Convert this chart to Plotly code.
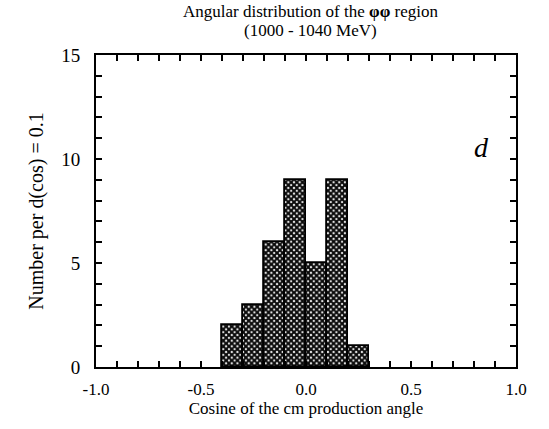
import plotly.graph_objects as go

# Histogram of cos(theta_cm) for the phi-phi region, 1000-1040 MeV
bin_edges = [-0.4, -0.3, -0.2, -0.1, 0.0, 0.1, 0.2, 0.3]
counts = [2, 3, 6, 9, 5, 9, 1]
bin_width = 0.1

x_ticks = [-1.0, -0.5, 0.0, 0.5, 1.0]
x_tick_labels = ["-1.0", "-0.5", "0.0", "0.5", "1.0"]
y_ticks = [0, 5, 10, 15]

title_lines = ["Angular distribution of the <b>φφ</b> region", "(1000 - 1040 MeV)"]

centers = [lo + bin_width / 2 for lo in bin_edges[:-1]]

serif = "Liberation Serif, Times New Roman, serif"

fig = go.Figure(
    go.Bar(
        x=centers,
        y=counts,
        width=[bin_width] * len(counts),
        marker=dict(
            color="black",
            line=dict(color="black", width=1.8),
            pattern=dict(shape="x", bgcolor="white", fgcolor="#0a0a0a",
                         size=4, solidity=0.78, fillmode="replace"),
        ),
        showlegend=False,
    )
)

axis_common = dict(
    showgrid=False, zeroline=False, showline=True, linecolor="black",
    linewidth=2, mirror="ticks", ticks="inside", ticklen=6, tickwidth=1.5,
    tickcolor="black",
)

fig.update_xaxes(
    range=[-1, 1], tickvals=x_ticks, ticktext=x_tick_labels,
    tickfont=dict(family=serif, size=17, color="black"),
    minor=dict(dtick=0.1, ticks="inside", ticklen=6, tickwidth=1.5, tickcolor="black"),
    title=dict(text="Cosine of the cm production angle",
               font=dict(family=serif, size=17, color="black"), standoff=2),
    ticklabelstandoff=6,
    **axis_common,
)
fig.update_yaxes(
    range=[0, 15], tickvals=y_ticks,
    tickfont=dict(family=serif, size=19, color="black"),
    minor=dict(dtick=1, ticks="inside", ticklen=6, tickwidth=1.5, tickcolor="black"),
    title=dict(text="Number per d(cos) = 0.1",
               font=dict(family=serif, size=20, color="black"), standoff=12),
    ticklabelstandoff=10,
    **axis_common,
)

# Two-line heading placed above the frame
heading = [
    dict(text=line, x=0.51, y=yp, xref="paper", yref="paper",
         xanchor="center", yanchor="middle", showarrow=False,
         font=dict(family=serif, size=17, color="black"))
    for line, yp in zip(title_lines, [1.138, 1.080])
]

fig.update_layout(
    width=549, height=429,
    margin=dict(l=96, r=33, t=55, b=62),
    paper_bgcolor="white", plot_bgcolor="white",
    bargap=0,
    annotations=heading + [
        dict(text="<i>d</i>", x=0.94, y=0.76, xref="paper", yref="paper",
             showarrow=False, font=dict(family=serif, size=28, color="black")),
    ],
)

fig.write_html("out.html")
